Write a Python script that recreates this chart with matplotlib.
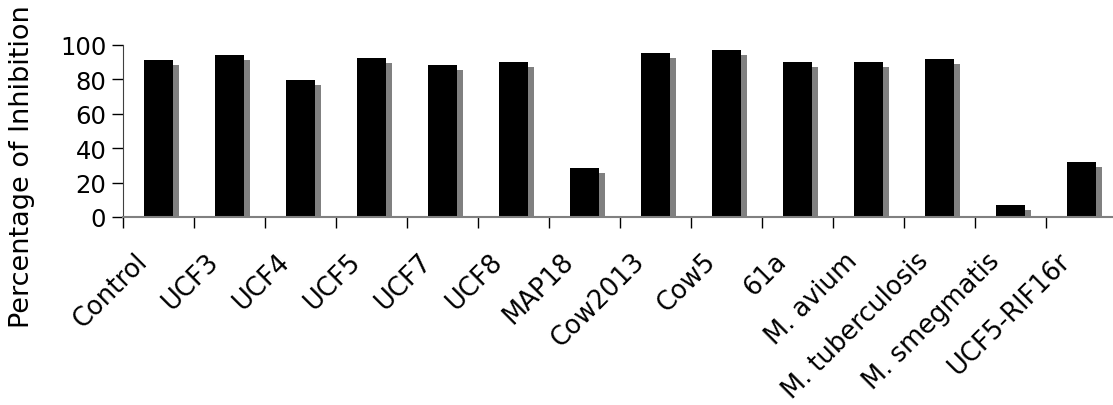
import matplotlib
matplotlib.use("Agg")
import matplotlib.pyplot as plt
import matplotlib.patheffects as pe
import matplotlib.transforms as mtransforms
import numpy as np

categories = ["Control", "UCF3", "UCF4", "UCF5", "UCF7", "UCF8", "MAP18",
              "Cow2013", "Cow5", "61a", "M. avium", "M. tuberculosis",
              "M. smegmatis", "UCF5-RIF16r"]
values = [91.3, 94.2, 79.7, 92.4, 88.4, 90.1, 28.7, 95.3, 97.1, 90.1, 90.1, 91.9, 7.0, 32.2]
yticks = [0, 20, 40, 60, 80, 100]
ylabel = "Percentage of Inhibition"

plt.rcParams['font.family'] = ['DejaVu Sans']
W, H = 1113, 406
fig = plt.figure(figsize=(W / 100, H / 100), dpi=100)
ax = fig.add_axes([123 / W, (H - 218) / H, (1117 - 123) / W, (218 - 45.7) / H])

x = np.arange(len(categories))
bars = ax.bar(x, values, width=0.41, color='black', zorder=2)
for b in bars:
    b.set_path_effects([pe.SimplePatchShadow(offset=(4.32, -3.6), shadow_rgbFace='#808080', alpha=1.0),
                        pe.Normal()])

ax.set_xlim(-0.5, len(categories) - 0.5)
ax.set_ylim(0, 100)
ax.set_yticks(yticks)
ax.set_yticklabels([str(t) for t in yticks], fontsize=17.5)
ax.set_xticks(x)
ax.set_xticklabels(categories, fontsize=18.5, rotation=45, ha='right', rotation_mode='anchor')
ax.set_xticks(np.arange(len(categories) + 1) - 0.5, minor=True)
ax.tick_params(axis='x', which='major', length=0, pad=14)
ax.tick_params(axis='x', which='minor', length=8, width=1, color='black', direction='out')
ax.tick_params(axis='y', length=8, width=1, direction='out', pad=4)

offset = mtransforms.ScaledTranslation(-24 / 100, -11 / 100, fig.dpi_scale_trans)
for lab in ax.get_xticklabels():
    lab.set_transform(lab.get_transform() + offset)

for s in ['top', 'right']:
    ax.spines[s].set_visible(False)
ax.spines['left'].set_color('#404040')
ax.spines['bottom'].set_color('#808080')
ax.spines['bottom'].set_linewidth(1.5)
ax.spines['bottom'].set_zorder(3)

fig.text(22 / W, (H - 167) / H, ylabel, rotation=90, fontsize=19.5, ha='center', va='center')

fig.savefig("out.png", dpi=100)
